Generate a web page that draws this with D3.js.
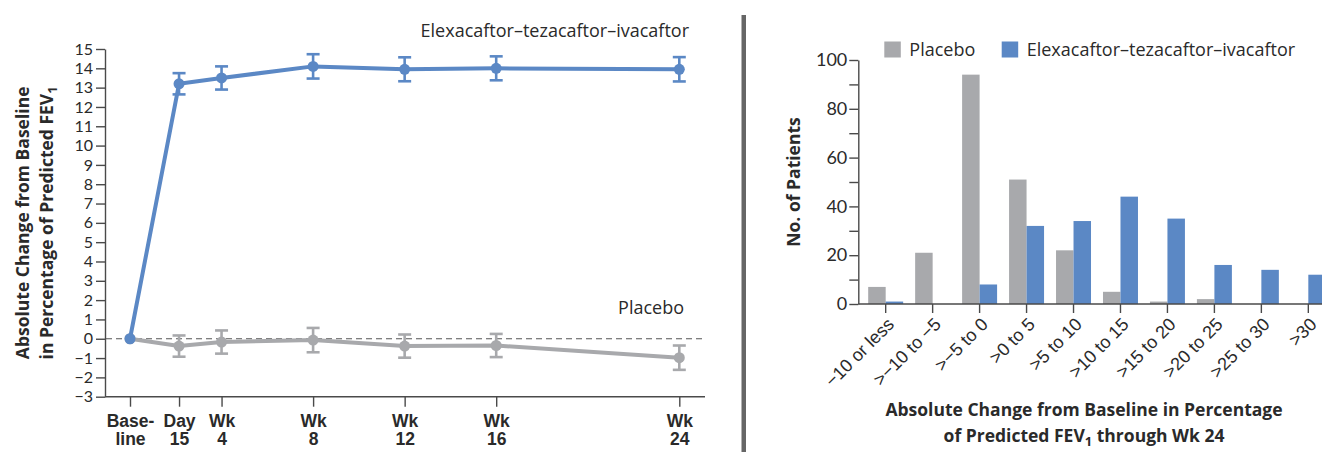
<!DOCTYPE html>
<html>
<head>
<meta charset="utf-8">
<script src="https://cdn.jsdelivr.net/npm/d3@7"></script>
<style>
  html, body { margin: 0; padding: 0; background: #fff; }
  svg { display: block; font-family: "Open Sans", "Lato", sans-serif; }
  .num { font-family: "Lato", sans-serif; }
</style>
</head>
<body>
<svg id="chart" width="1322" height="452"></svg>
<script>
// ---- Panel A: mean absolute change in ppFEV1 over time ----
const visitLabels = [["Base-", "line"], ["Day", "15"], ["Wk", "4"], ["Wk", "8"], ["Wk", "12"], ["Wk", "16"], ["Wk", "24"]];
const visitWeeks = [0, 15 / 7, 4, 8, 12, 16, 24];
const etiMean = [0, 13.2, 13.5, 14.1, 13.95, 14.0, 13.95];
const etiErr = [0, 0.55, 0.6, 0.63, 0.62, 0.62, 0.63];
const placeboMean = [0, -0.38, -0.17, -0.07, -0.38, -0.35, -0.98];
const placeboErr = [0, 0.55, 0.6, 0.63, 0.6, 0.6, 0.63];
const yTicksA = d3.range(-3, 16);

// ---- Panel B: distribution of change through week 24 ----
const bins = ["−10 or less", ">−10 to −5", ">−5 to 0", ">0 to 5", ">5 to 10", ">10 to 15", ">15 to 20", ">20 to 25", ">25 to 30", ">30"];
const placeboCounts = [7, 21, 94, 51, 22, 5, 1, 2, 0, 0];
const etiCounts = [1, 0, 8, 32, 34, 44, 35, 16, 14, 12];
const seriesNames = ["Placebo", "Elexacaftor–tezacaftor–ivacaftor"];
const yTicksB = d3.range(0, 101, 10);

const BLUE = "#5b88c5";
const GRAY = "#a8a9ac";
const AXIS = "#4a4a4a";
const TEXT = "#2a2a2a";

const svg = d3.select("#chart");

// ================= Panel A =================
const gA = svg.append("g");
const xA = d3.scaleLinear().domain([0, 24]).range([130, 679.3]);
const yA = d3.scaleLinear().domain([-3, 15]).range([396.7, 49]);

// y axis
const yAxisA = d3.axisLeft(yA).tickValues(yTicksA).tickSize(9).tickSizeOuter(0).tickPadding(3);
const yAxG = gA.append("g").attr("transform", "translate(105,0)").call(yAxisA);
yAxG.selectAll("path, line").attr("stroke", AXIS).attr("stroke-width", 1.4);
yAxG.selectAll("text").attr("class", "num").attr("font-size", 16).attr("fill", TEXT);

// x axis line and ticks
gA.append("line").attr("x1", 105).attr("x2", 705).attr("y1", yA(-3)).attr("y2", yA(-3))
  .attr("stroke", AXIS).attr("stroke-width", 1.4);
const xAxisA = d3.axisBottom(xA).tickValues(visitWeeks).tickSize(10).tickFormat(() => "");
const xAxG = gA.append("g").attr("transform", `translate(0,${yA(-3)})`).call(xAxisA);
xAxG.select(".domain").remove();
xAxG.selectAll("line").attr("stroke", AXIS).attr("stroke-width", 1.4);
xAxG.selectAll(".tick").each(function (d, i) {
  const t = d3.select(this).append("text")
    .attr("text-anchor", "middle").attr("font-size", 17.5).attr("font-weight", 700).attr("fill", TEXT);
  t.append("tspan").attr("x", 0).attr("y", 30).text(visitLabels[i][0]);
  t.append("tspan").attr("x", 0).attr("y", 48).text(visitLabels[i][1]);
});

// zero reference line
gA.append("line").attr("x1", 106).attr("x2", 705).attr("y1", yA(0)).attr("y2", yA(0))
  .attr("stroke", "#555").attr("stroke-width", 1).attr("stroke-dasharray", "6,4");

// y axis title
const yTitleA = gA.append("text").attr("transform", `translate(0,${(yA(-3) + yA(15)) / 2}) rotate(-90)`)
  .attr("text-anchor", "middle").attr("font-size", 17.5).attr("font-weight", 700).attr("fill", TEXT);
yTitleA.append("tspan").attr("x", 0).attr("y", 29).text("Absolute Change from Baseline");
yTitleA.append("tspan").attr("x", 0).attr("y", 53).text("in Percentage of Predicted FEV");
yTitleA.append("tspan").attr("font-size", 13).attr("dy", 4).text("1");

function drawSeries(means, errs, color) {
  const pts = visitWeeks.map((w, i) => ({ x: xA(w), y: yA(means[i]), e: errs[i], m: means[i] }));
  gA.append("path").datum(pts)
    .attr("d", d3.line().x(d => d.x).y(d => d.y))
    .attr("fill", "none").attr("stroke", color).attr("stroke-width", 4).attr("stroke-linejoin", "round");
  const eb = gA.append("g").attr("stroke", color).attr("stroke-width", 2.6);
  pts.filter(d => d.e > 0).forEach(d => {
    const top = yA(d.m + d.e), bot = yA(d.m - d.e);
    eb.append("line").attr("x1", d.x).attr("x2", d.x).attr("y1", top).attr("y2", bot);
    eb.append("line").attr("x1", d.x - 6.5).attr("x2", d.x + 6.5).attr("y1", top).attr("y2", top);
    eb.append("line").attr("x1", d.x - 6.5).attr("x2", d.x + 6.5).attr("y1", bot).attr("y2", bot);
  });
  gA.append("g").selectAll("circle").data(pts).join("circle")
    .attr("cx", d => d.x).attr("cy", d => d.y).attr("r", 5.5).attr("fill", color);
}
drawSeries(placeboMean, placeboErr, GRAY);
drawSeries(etiMean, etiErr, BLUE);

gA.append("text").attr("x", 689).attr("y", 37).attr("text-anchor", "end")
  .attr("font-size", 18).attr("fill", TEXT).text(seriesNames[1]);
gA.append("text").attr("x", 684).attr("y", 314).attr("text-anchor", "end")
  .attr("font-size", 18).attr("fill", TEXT).text(seriesNames[0]);

// panel divider
svg.append("rect").attr("x", 741.5).attr("y", 15).attr("width", 4.5).attr("height", 437).attr("fill", "#666");

// ================= Panel B =================
const gB = svg.append("g");
const x0 = 858.3;
const xB = d3.scaleBand().domain(bins).range([862.2, 1331.8]).paddingInner(0.255).paddingOuter(0.1275);
const xSub = d3.scaleBand().domain(seriesNames).range([0, xB.bandwidth()]);
const yB = d3.scaleLinear().domain([0, 100]).range([304, 60]);

// bars
const barData = bins.map((b, i) => ({ bin: b, vals: [placeboCounts[i], etiCounts[i]] }));
const groups = gB.append("g").selectAll("g").data(barData).join("g")
  .attr("transform", d => `translate(${xB(d.bin)},0)`);
groups.selectAll("rect").data(d => d.vals.map((v, j) => ({ name: seriesNames[j], v })))
  .join("rect")
  .attr("x", d => xSub(d.name)).attr("width", xSub.bandwidth())
  .attr("y", d => yB(d.v)).attr("height", d => yB(0) - yB(d.v))
  .attr("fill", d => d.name === seriesNames[0] ? GRAY : BLUE);

// y axis
const yAxisB = d3.axisLeft(yB).tickValues(yTicksB).tickSize(9).tickSizeOuter(0).tickPadding(2)
  .tickFormat(d => d % 20 === 0 ? d : "");
const yBG = gB.append("g").attr("transform", `translate(${x0},0)`).call(yAxisB);
yBG.selectAll("path, line").attr("stroke", AXIS).attr("stroke-width", 1.4);
yBG.selectAll("text").attr("class", "num").attr("font-size", 18).attr("fill", TEXT);

// x axis
gB.append("line").attr("x1", x0).attr("x2", 1322).attr("y1", yB(0)).attr("y2", yB(0))
  .attr("stroke", AXIS).attr("stroke-width", 1.4);
const xAxisB = d3.axisBottom(xB).tickSize(9).tickSizeOuter(0).tickPadding(2);
const xBG = gB.append("g").attr("transform", `translate(0,${yB(0)})`).call(xAxisB);
xBG.select(".domain").remove();
xBG.selectAll("line").attr("stroke", AXIS).attr("stroke-width", 1.4);
xBG.selectAll("text")
  .attr("font-size", 18).attr("fill", TEXT)
  .attr("text-anchor", "end")
  .attr("transform", "translate(5,17) rotate(-45)")
  .attr("x", 0).attr("y", 0).attr("dy", "0.35em");

// y axis title
gB.append("text").attr("transform", `translate(800,182) rotate(-90)`)
  .attr("text-anchor", "middle").attr("font-size", 17.5).attr("font-weight", 700).attr("fill", TEXT)
  .text("No. of Patients");

// x axis title
const xTitleB = gB.append("text").attr("text-anchor", "middle")
  .attr("font-size", 17.5).attr("font-weight", 700).attr("fill", TEXT);
xTitleB.append("tspan").attr("x", 1084).attr("y", 416).text("Absolute Change from Baseline in Percentage");
const t2 = xTitleB.append("tspan").attr("x", 1084).attr("y", 442);
t2.append("tspan").text("of Predicted FEV");
t2.append("tspan").attr("font-size", 13).attr("dy", 4).text("1");
t2.append("tspan").attr("dy", -4).text(" through Wk 24");

// legend
const legend = gB.append("g");
const legendX = [884.3, 1001.7];
seriesNames.forEach((name, i) => {
  legend.append("rect").attr("x", legendX[i]).attr("y", 41.5).attr("width", 16.5).attr("height", 16)
    .attr("fill", i === 0 ? GRAY : BLUE);
  legend.append("text").attr("x", legendX[i] + 25).attr("y", 56)
    .attr("font-size", 18).attr("fill", TEXT).text(name);
});
</script>
</body>
</html>
